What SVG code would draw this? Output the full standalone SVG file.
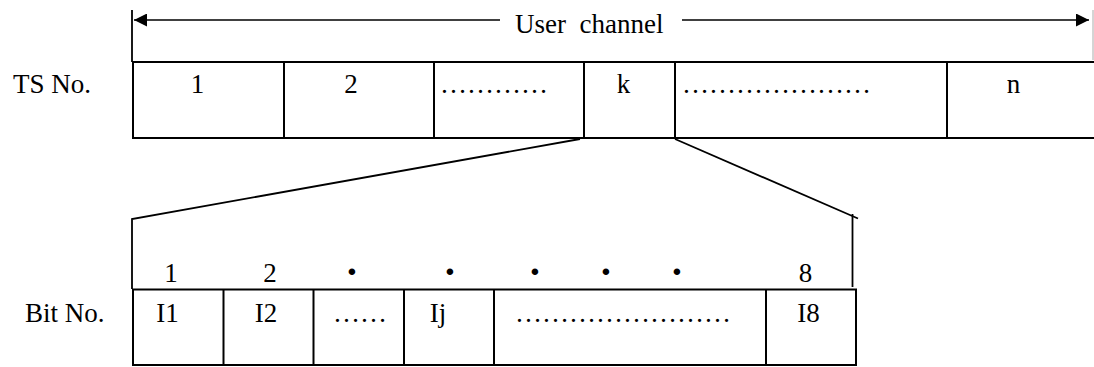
<svg xmlns="http://www.w3.org/2000/svg" width="1094" height="367" viewBox="0 0 1094 367">
<style>
text{font-family:"Liberation Serif","Times New Roman",serif;font-size:27px;fill:#000}
.m{text-anchor:middle}
.cell{fill:none;stroke:#000;stroke-width:2}
.ln{fill:none;stroke:#000;stroke-width:1.8}
.dot{font-size:40px;font-weight:bold;text-anchor:middle}
</style>
<defs>
<marker id="ah" markerWidth="13" markerHeight="13" viewBox="0 0 13 13" refX="13" refY="6.5" orient="auto-start-reverse" markerUnits="userSpaceOnUse">
<path d="M0,0 L13,6.5 L0,13 Z" fill="#000"/>
</marker>
</defs>
<rect width="1094" height="367" fill="#fff"/>

<g id="labels">
<text x="13" y="93">TS No.</text>
<text x="25" y="322">Bit No.</text>
</g>

<g id="user-channel">
<line x1="132" y1="10" x2="132" y2="62" class="ln" stroke-width="1.5"/>
<line x1="1093" y1="10" x2="1093" y2="60" stroke="#aaa" stroke-width="1"/>
<line x1="134" y1="20" x2="500" y2="20" stroke="#000" stroke-width="1.6" marker-start="url(#ah)"/>
<line x1="682" y1="20" x2="1089" y2="20" stroke="#000" stroke-width="1.6" marker-end="url(#ah)"/>
<text x="515" y="33" xml:space="preserve">User  channel</text>
</g>

<g id="ts-row">
<line x1="132" y1="62" x2="1094" y2="62" class="cell"/>
<line x1="132" y1="138" x2="1094" y2="138" class="cell"/>
<line x1="133" y1="61" x2="133" y2="139" class="cell"/>
<line x1="284" y1="61" x2="284" y2="139" class="cell"/>
<line x1="434" y1="61" x2="434" y2="139" class="cell"/>
<line x1="584" y1="61" x2="584" y2="139" class="cell"/>
<line x1="675" y1="61" x2="675" y2="139" class="cell"/>
<line x1="947" y1="61" x2="947" y2="139" class="cell"/>
<text class="m" x="197.5" y="93">1</text>
<text class="m" x="351" y="93">2</text>
<text x="440" y="93">…………</text>
<text class="m" x="623.5" y="93">k</text>
<text x="682" y="93">…………………</text>
<text class="m" x="1013.5" y="93">n</text>
</g>

<g id="connectors">
<polyline points="132,289 132,219 580,139" class="ln"/>
<line x1="675" y1="139" x2="858" y2="218.5" class="ln"/>
<line x1="852.5" y1="214" x2="852.5" y2="287" class="ln"/>
</g>

<g id="bit-row">
<rect x="133" y="289.5" width="723" height="75.5" class="cell"/>
<line x1="223.5" y1="289" x2="223.5" y2="365" class="cell"/>
<line x1="313.5" y1="289" x2="313.5" y2="365" class="cell"/>
<line x1="404" y1="289" x2="404" y2="365" class="cell"/>
<line x1="494" y1="289" x2="494" y2="365" class="cell"/>
<line x1="766" y1="289" x2="766" y2="365" class="cell"/>
<text class="m" x="171" y="281.5">1</text>
<text class="m" x="270" y="281.5">2</text>
<text class="dot" x="352" y="285">·</text>
<text class="dot" x="450" y="285">·</text>
<text class="dot" x="535" y="285">·</text>
<text class="dot" x="606" y="285">·</text>
<text class="dot" x="677" y="285">·</text>
<text class="m" x="805.5" y="281.5">8</text>
<text class="m" x="167.5" y="322">I1</text>
<text class="m" x="266" y="322">I2</text>
<text x="333" y="322">……</text>
<text class="m" x="438" y="322">Ij</text>
<text x="515" y="322">……………………</text>
<text class="m" x="808.5" y="322">I8</text>
</g>
</svg>
